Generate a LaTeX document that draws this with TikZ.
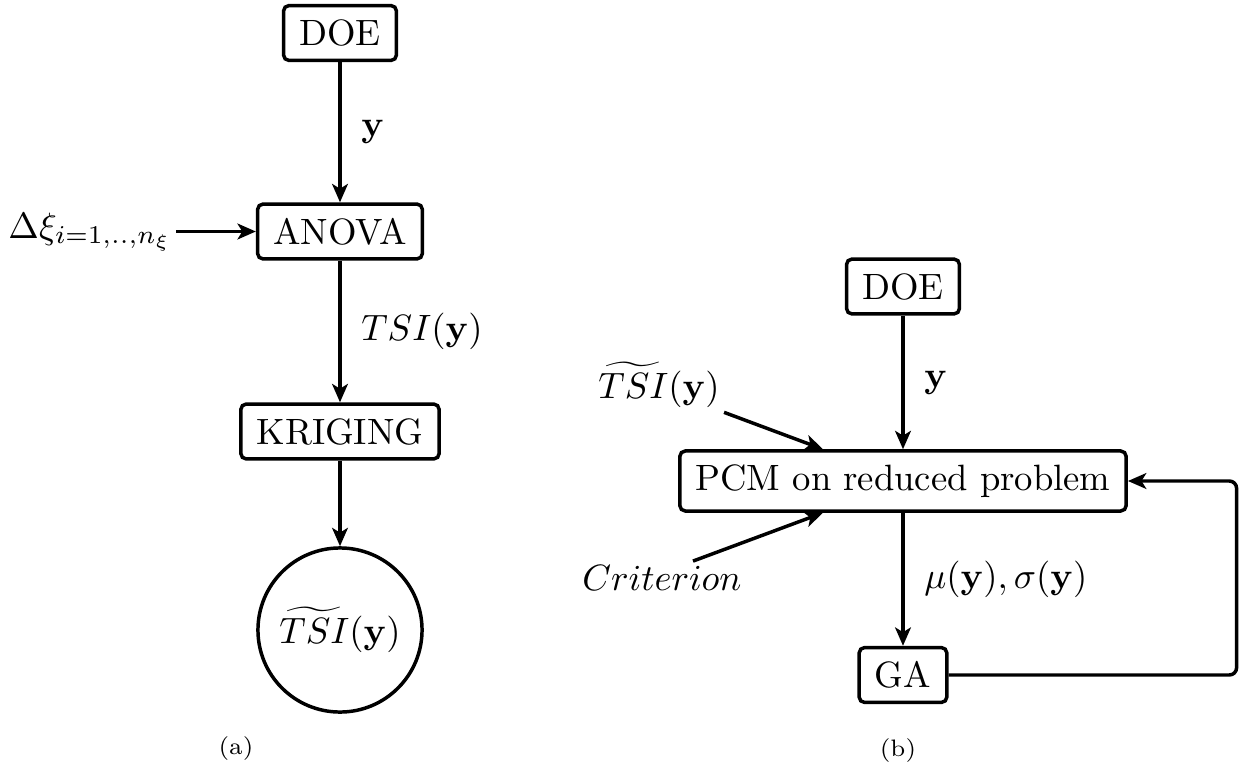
\documentclass[tikz,border=0pt]{standalone}
\usepackage{amsmath}
\usepackage{tikz}
\usetikzlibrary{arrows.meta,positioning,calc,shapes.geometric}

\begin{document}
\begin{tikzpicture}[x=0.273pt,y=-0.273pt,
  block/.style={draw,rounded corners=1.5pt,line width=0.95pt,align=center,
    inner xsep=4.3pt,inner ysep=3pt,minimum height=15pt},
  result/.style={draw,circle,line width=0.95pt,minimum size=44.8pt,inner sep=0pt},
  lbl/.style={inner sep=1pt},
  edgelbl/.style={right,xshift=2pt},
  arr/.style={-{Stealth[length=5pt,width=4.3pt,inset=1.3pt]},line width=0.95pt},
  captext/.style={font=\fontsize{6.5}{7.5}\selectfont}
]
\useasboundingbox (0,0) rectangle (1239,769);

% (a)
\node[block] (doea) at (340,33) {DOE};
\node[block] (anova) at (340,231.5) {ANOVA};
\node[block] (kriging) at (340,431.5) {KRIGING};
\node[result] (tsi) at (340,630) {$\widetilde{TSI}(\mathbf{y})$};
\node[lbl,anchor=east] (dxi) at (176,232) {$\Delta\xi_{i=1,..,n_\xi}$};

\draw[arr] (doea)--(anova) node[midway,edgelbl] (ya) {$\mathbf{y}$};
\draw[arr] (dxi.east |- anova.west)--(anova.west);
\draw[arr] (anova)--(kriging) node[midway,edgelbl] (tsia) {$TSI(\mathbf{y})$};
\draw[arr] (kriging)--(tsi);

% (b)
\node[block] (doeb) at (903,286.5) {DOE};
\node[block,minimum height=16.4pt] (pcm) at (903,481) {PCM on reduced problem};
\node[block] (ga) at (903,675) {GA};
\node[lbl] (tsit) at (659,385) {$\widetilde{TSI}(\mathbf{y})$};
\node[lbl] (crit) at (662,578) {$Criterion$};

\draw[arr] (doeb)--(pcm) node[midway,edgelbl] (yb) {$\mathbf{y}$};
\draw[arr] (pcm)--(ga) node[midway,edgelbl] (musig)
  {$\mu(\mathbf{y}),\sigma(\mathbf{y})$};
\draw[arr] (tsit.south east)--($(pcm.north)+(-80,0)$);
\draw[arr] ($(crit.north)+(31,0)$)--($(pcm.south)+(-80,0)$);
\draw[arr,rounded corners=2pt] (ga.east)--++(288,0)|-(pcm.east);

\node[captext] (capa) at (236,749) {(a)};
\node[captext] (capb) at (898,751) {(b)};
\end{tikzpicture}
\end{document}
